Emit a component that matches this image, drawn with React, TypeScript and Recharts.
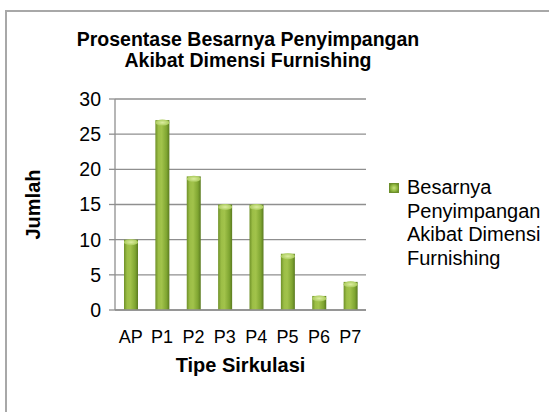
import { BarChart, Bar, XAxis, YAxis, CartesianGrid, Legend } from 'recharts';

const categories = ['AP', 'P1', 'P2', 'P3', 'P4', 'P5', 'P6', 'P7'];
const values = [10, 27, 19, 15, 15, 8, 2, 4];
const yTicks = [0, 5, 10, 15, 20, 25, 30];
const seriesName = 'Besarnya Penyimpangan Akibat Dimensi Furnishing';
const legendLines = ['Besarnya', 'Penyimpangan', 'Akibat Dimensi', 'Furnishing'];

const FONT = '"Liberation Sans", Arial, sans-serif';

const data = categories.map((c, i) => ({ tipe: c, jumlah: values[i] }));

function CylinderBar(props: any) {
  const { x, y, width, height } = props;
  if (!height || height <= 0) return null;
  return (
    <g>
      <rect x={x} y={y} width={width} height={height} fill="url(#barBody)" />
      <ellipse cx={x + width / 2} cy={y + 2.5} rx={width / 2} ry={3} fill="url(#barCap)" />
    </g>
  );
}

function LegendBox() {
  return (
    <div style={{ display: 'flex', fontFamily: FONT, fontSize: 20, color: '#000', lineHeight: '23.5px' }}>
      <div
        style={{
          width: 8,
          height: 8,
          marginTop: 7,
          marginRight: 8,
          background: 'radial-gradient(circle, #c6e07e 0%, #8cb43c 60%, #5f7f25 100%)',
          border: '1px solid #6d8f2c',
        }}
      />
      <div>
        {legendLines.map((l) => (
          <div key={l}>{l}</div>
        ))}
      </div>
    </div>
  );
}

export default function App() {
  return (
    <div style={{ position: 'absolute', left: 0, top: 0, width: 549, height: 412, background: '#fff', overflow: 'hidden' }}>
      <div
        style={{
          position: 'absolute',
          left: 5,
          top: 10,
          width: 600,
          height: 450,
          borderTop: '2px solid #a8a8a8',
          borderLeft: '2px solid #a8a8a8',
        }}
      />
      <div
        style={{
          position: 'absolute',
          left: 48,
          top: 29,
          width: 400,
          textAlign: 'center',
          fontFamily: FONT,
          fontWeight: 'bold',
          fontSize: 19.5,
          lineHeight: '21px',
          color: '#000',
        }}
      >
        Prosentase Besarnya Penyimpangan
        <br />
        Akibat Dimensi Furnishing
      </div>
      <div style={{ position: 'absolute', left: 0, top: 0 }}>
        <BarChart
          width={549}
          height={412}
          data={data}
          margin={{ top: 99, right: 183, bottom: 32, left: 15 }}
          barSize={14}
          style={{ fontFamily: FONT }}
        >
          <defs>
            <linearGradient id="barBody" x1="0" y1="0" x2="1" y2="0">
              <stop offset="0%" stopColor="#6f9128" />
              <stop offset="22%" stopColor="#9cbe46" />
              <stop offset="45%" stopColor="#a2c34b" />
              <stop offset="80%" stopColor="#7fa531" />
              <stop offset="100%" stopColor="#5a7a20" />
            </linearGradient>
            <radialGradient id="barCap">
              <stop offset="0%" stopColor="#dcedA0" />
              <stop offset="100%" stopColor="#aacb5c" />
            </radialGradient>
          </defs>
          <CartesianGrid vertical={false} stroke="#8f8f8f" strokeWidth={1.3} />
          <XAxis
            dataKey="tipe"
            height={70}
            tickLine={false}
            axisLine={{ stroke: '#8f8f8f', strokeWidth: 1.3 }}
            tick={{ fill: '#000', fontSize: 18 }}
            tickMargin={14}
            interval={0}
            label={{
              value: 'Tipe Sirkulasi',
              position: 'insideBottom',
              offset: 8,
              style: { fontWeight: 'bold', fontSize: 20, fill: '#000' },
            }}
          />
          <YAxis
            width={100}
            domain={[0, 30]}
            ticks={yTicks}
            tickSize={6}
            tickLine={{ stroke: '#8f8f8f', strokeWidth: 1.3 }}
            axisLine={{ stroke: '#8f8f8f', strokeWidth: 1.3 }}
            tick={{ fill: '#000', fontSize: 19.5 }}
            tickMargin={8}
            label={{
              value: 'Jumlah',
              angle: -90,
              position: 'insideLeft',
              offset: 18,
              style: { fontWeight: 'bold', fontSize: 20, fill: '#000', textAnchor: 'middle' },
            }}
          />
          <Legend
            layout="horizontal"
            verticalAlign="middle"
            align="center"
            content={() => <LegendBox />}
            wrapperStyle={{ position: 'absolute', left: 389, top: 176, width: 160 }}
          />
          <Bar dataKey="jumlah" name={seriesName} shape={<CylinderBar />} isAnimationActive={false} />
        </BarChart>
      </div>
    </div>
  );
}
